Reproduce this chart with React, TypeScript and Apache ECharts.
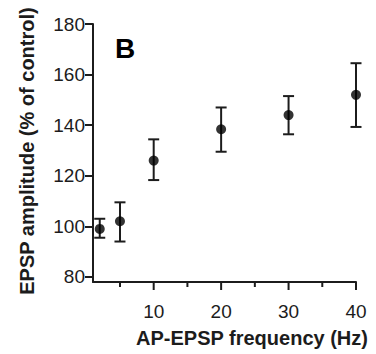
import React, { useEffect, useRef } from "react";
import * as echarts from "echarts";

const frequencies = [2, 5, 10, 20, 30, 40];
const means = [99, 102, 126, 138.4, 144, 152];
const errLow = [95.5, 94, 118.3, 129.5, 136.4, 139.3];
const errHigh = [103, 109.5, 134.4, 147, 151.5, 164.5];
const yTicks = [80, 100, 120, 140, 160, 180];
const xMajorTicks = [10, 20, 30, 40];
const xMinorTicks = [5, 15, 25, 35];

const INK = "#1c1c1c";
const FONT = "'Liberation Sans', Arial, Helvetica, sans-serif";
const Y_MIN = 78;

export default function App() {
  const ref = useRef<HTMLDivElement>(null);
  useEffect(() => {
    if (!ref.current) return;
    const chart = echarts.init(ref.current, undefined, { renderer: "svg" });
    const errData = frequencies.map((f, i) => [f, errLow[i], errHigh[i]]);
    const textGraphics: any[] = [
      {
        type: "text",
        left: 115,
        top: 34,
        z: 50,
        style: { text: "B", font: `bold 28px ${FONT}`, fill: "#000000" },
      },
      {
        type: "text",
        x: 252,
        y: 338,
        z: 50,
        style: {
          text: "AP-EPSP frequency (Hz)",
          font: `bold 20px ${FONT}`,
          fill: INK,
          align: "center",
          verticalAlign: "middle",
        },
      },
      {
        type: "text",
        x: 27,
        y: 151,
        z: 50,
        rotation: Math.PI / 2,
        style: {
          text: "EPSP amplitude (% of control)",
          font: `bold 20px ${FONT}`,
          fill: INK,
          align: "center",
          verticalAlign: "middle",
        },
      },
    ];
    chart.setOption({
      animation: false,
      backgroundColor: "#ffffff",
      grid: { left: 93, right: 20, top: 24, bottom: 72 },
      xAxis: {
        type: "value",
        min: 1,
        max: 40,
        splitLine: { show: false },
        axisLine: { show: true, lineStyle: { color: INK, width: 2 } },
        axisTick: { show: false },
        axisLabel: { show: false },
      },
      yAxis: {
        type: "value",
        min: Y_MIN,
        max: 180,
        splitLine: { show: false },
        axisLine: { show: true, lineStyle: { color: INK, width: 2 } },
        axisTick: { show: true, customValues: yTicks, length: 8, lineStyle: { color: INK, width: 2 } },
        axisLabel: { customValues: yTicks, color: INK, fontSize: 19, fontFamily: FONT, margin: 8 },
      },
      series: [
        {
          type: "custom",
          data: errData,
          renderItem: (params: any, api: any) => {
            const x = api.value(0);
            const top = api.coord([x, api.value(2)]);
            const bot = api.coord([x, api.value(1)]);
            const hw = 5.5;
            const style = { stroke: INK, lineWidth: 2 };
            return {
              type: "group",
              children: [
                { type: "line", shape: { x1: top[0], y1: top[1], x2: bot[0], y2: bot[1] }, style },
                { type: "line", shape: { x1: top[0] - hw, y1: top[1], x2: top[0] + hw, y2: top[1] }, style },
                { type: "line", shape: { x1: bot[0] - hw, y1: bot[1], x2: bot[0] + hw, y2: bot[1] }, style },
              ],
            };
          },
        },
        {
          type: "scatter",
          data: frequencies.map((f, i) => [f, means[i]]),
          symbol: "circle",
          symbolSize: 10,
          itemStyle: { color: "#000000" },
        },
      ],
      graphic: textGraphics,
    });

    const extra: any[] = [];
    const toPx = (v: number) =>
      chart.convertToPixel({ xAxisIndex: 0, yAxisIndex: 0 }, [v, Y_MIN]) as number[];
    const addTicks = (values: number[], len: number, withLabel: boolean) => {
      values.forEach((v) => {
        const p = toPx(v);
        if (!p) return;
        extra.push({
          type: "rect",
          z: 100,
          x: p[0] - 1,
          y: p[1],
          shape: { x: 0, y: 0, width: 2, height: len },
          style: { fill: INK },
        });
        if (withLabel) {
          extra.push({
            type: "text",
            z: 100,
            x: p[0],
            y: p[1] + 29,
            style: {
              text: String(v),
              font: `19px ${FONT}`,
              fill: INK,
              align: "center",
              verticalAlign: "middle",
            },
          });
        }
      });
    };
    addTicks(xMajorTicks, 8, true);
    addTicks(xMinorTicks, 5, false);
    chart.setOption({ graphic: [...textGraphics, ...extra] }, { replaceMerge: ["graphic"] });

    return () => chart.dispose();
  }, []);
  return <div ref={ref} style={{ width: 376, height: 354, position: "absolute", left: 0, top: 0 }} />;
}
